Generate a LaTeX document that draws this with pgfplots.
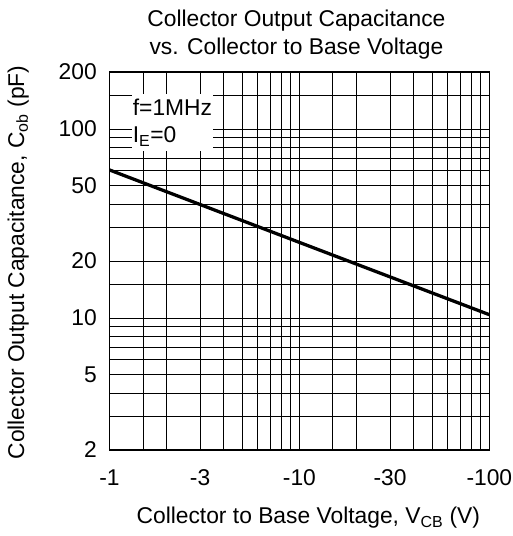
\documentclass[border=0pt]{standalone}
\usepackage{fontspec}
\setmainfont{Liberation Sans}
\usepackage{pgfplots}
\pgfplotsset{compat=1.18}
\newcommand{\lbl}{\fontsize{23bp}{27bp}\selectfont}
\begin{document}
\lbl
\begin{tikzpicture}
\begin{axis}[
  name=ax,
  xmode=log, ymode=log,
  scale only axis,
  width=383bp, height=381bp,
  xmin=1, xmax=100, ymin=2, ymax=200,
  xtick={1,3,10,30,100},
  xticklabels={-1,-3,-10,-30,-100},
  minor xtick={1.5,2,4,5,6,7,8,9,15,20,40,50,60,70,80,90},
  ytick={2,5,10,20,50,100,200},
  yticklabels={2,5,10,20,50,100,200},
  minor ytick={3,4,6,7,8,9,15,30,40,60,70,80,90,150},
  grid=both,
  major grid style={black,line width=0.8bp},
  minor grid style={black,line width=0.8bp},
  major tick length=0pt, minor tick length=0pt,
  axis line style={line width=1.5bp},
  tick label style={font=\lbl},
  xticklabel style={anchor=base,yshift=-36bp,inner sep=0pt},
  yticklabel style={anchor=east,inner sep=0pt,xshift=-12.6bp},
]
\addplot[black,line width=3.3bp] coordinates {(1,60.7) (10,25.1) (100,10.4)};
\node[fill=white,anchor=north west,inner xsep=1bp,inner ysep=5bp,align=left,font=\lbl]
  at (rel axis cs:0.0585,0.942) {f=1MHz\\I\textsubscript{E}=0};
\end{axis}
% titles and axis labels
\node[anchor=base] at ([yshift=46bp,xshift=-3bp]ax.north) {Collector Output Capacitance};
\node[anchor=base] at ([yshift=17.7bp,xshift=-3bp]ax.north) {vs. Collector to Base Voltage};
\node[anchor=base] at ([yshift=-74.3bp,xshift=9bp]ax.south) {Collector to Base Voltage, V\textsubscript{CB} (V)};
\node[rotate=90,anchor=center] at ([xshift=-92bp,yshift=-1.5bp]ax.west) {Collector Output Capacitance, C\textsubscript{ob} (pF)};
\path ([xshift=-109.3bp,yshift=-82bp]ax.south west) rectangle ([xshift=23bp,yshift=72.7bp]ax.north east);
\end{tikzpicture}
\end{document}
